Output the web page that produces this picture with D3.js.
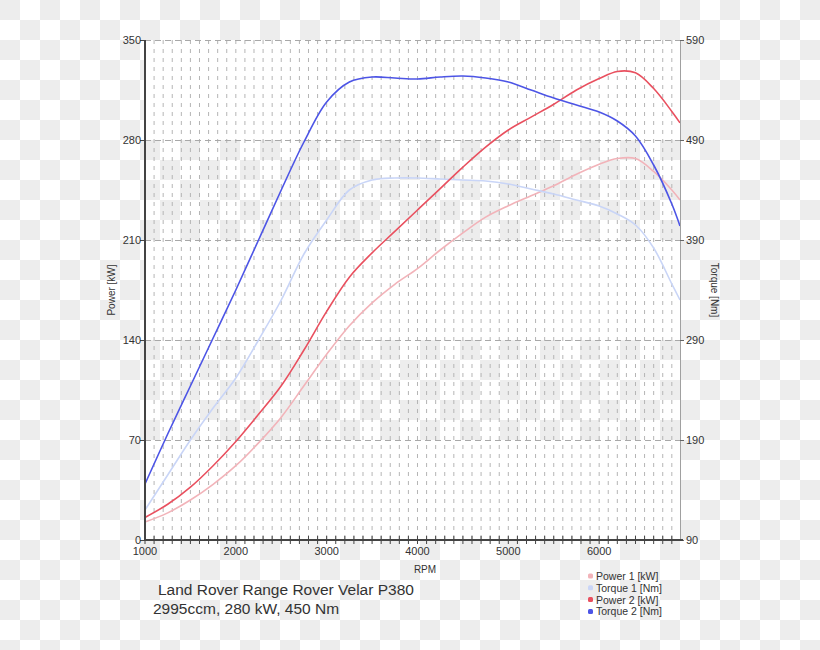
<!DOCTYPE html>
<html><head><meta charset="utf-8">
<script src="https://cdn.jsdelivr.net/npm/d3@7"></script>
<style>body{margin:0;background:#fff}svg{display:block}text{font-family:"Liberation Sans",Arial,sans-serif;fill:#333}</style>
</head><body><svg id="c" width="820" height="650"></svg>
<script>
const rpm =     [1000,1250,1500,1750,2000,2250,2500,2750,3000,3250,3500,3750,4000,4250,4500,4750,5000,5250,5500,5750,6000,6200,6400,6600,6800,6890];
const power1 =  [12.6,19,28,39,52,68,86,108,130,150,166,179,190,203,215,226,234,241,248,256,263,267,267,258,245,238];
const torque1 = [120,155,190,222,252,290,330,376,410,440,450,452,452,451,450,449,446,441,436,430,424,416,405,382,346,330];
const power2 =  [15.8,25,37,52,69,88,108,133,160,184,201,216,231,246,261,275,287,296,305,315,323,328,327,316,300,292];
const torque2 = [146,196,244,292,340,390,440,488,528,548,553,552,551,553,554,552,548,540,532,525,518,509,494,465,426,404];
const leftTicks = [0,70,140,210,280,350];
const rightTicks = [90,190,290,390,490,590];
const xTicks = [1000,2000,3000,4000,5000,6000];
const seriesNames = ["Power 1 [kW]","Torque 1 [Nm]","Power 2 [kW]","Torque 2 [Nm]"];
const seriesColors = ["#f2b3b9","#c9d5f7","#e9505f","#4d55e6"];
const titleLines = ["Land Rover Range Rover Velar P380","2995ccm, 280 kW, 450 Nm"];

const svg = d3.select("#c");
const L=145, T=40, R=680, B=540;
const x = d3.scaleLinear().domain([1000,6890]).range([L,R]);
const yP = d3.scaleLinear().domain([0,350]).range([B,T]);
const yT = d3.scaleLinear().domain([90,590]).range([B,T]);

const defs = svg.append("defs");
const pat = defs.append("pattern").attr("id","chk").attr("width",40).attr("height",40).attr("patternUnits","userSpaceOnUse");
pat.append("rect").attr("width",40).attr("height",40).attr("fill","#fff");
pat.append("rect").attr("x",0).attr("y",0).attr("width",20).attr("height",20).attr("fill","#ededed");
pat.append("rect").attr("x",20).attr("y",20).attr("width",20).attr("height",20).attr("fill","#ededed");
svg.append("rect").attr("width",820).attr("height",650).attr("fill","url(#chk)");

// white bands
[[280,350],[140,210],[0,70]].forEach(([a,b])=>{
  svg.append("rect").attr("x",L).attr("y",yP(b)).attr("width",R-L).attr("height",yP(a)-yP(b)).attr("fill","#fff");
});

// vertical dashed grid
const minor = d3.range(1100,6890,100);
svg.append("g").selectAll("line").data(minor).join("line")
  .attr("x1",d=>x(d)).attr("x2",d=>x(d)).attr("y1",T).attr("y2",B)
  .attr("stroke","#b5b5b5").attr("stroke-width",1).attr("stroke-dasharray","4,5");
// horizontal dashed grid
svg.append("g").selectAll("line").data(leftTicks.slice(1)).join("line")
  .attr("x1",L).attr("x2",R).attr("y1",d=>yP(d)+0.5).attr("y2",d=>yP(d)+0.5)
  .attr("stroke","#a8a8a8").attr("stroke-width",1).attr("stroke-dasharray","6,4");

// curves
const data = [power1,torque1,power2,torque2];
const scales = [yP,yT,yP,yT];
const line = (ys,sc)=>d3.line().x((d,i)=>x(rpm[i])).y(d=>sc(d)).curve(d3.curveCatmullRom.alpha(0.5))(ys);
[0,1,2,3].forEach(k=>{
  svg.append("path").attr("d",line(data[k],scales[k])).attr("fill","none")
    .attr("stroke",seriesColors[k]).attr("stroke-width",1.6);
});

// right axis
svg.append("line").attr("x1",R+0.5).attr("x2",R+0.5).attr("y1",T).attr("y2",B).attr("stroke","#a0a0a0");
svg.append("g").selectAll("line").data(rightTicks).join("line")
  .attr("x1",R).attr("x2",R+4).attr("y1",d=>yT(d)+0.5).attr("y2",d=>yT(d)+0.5).attr("stroke","#666");
svg.append("g").selectAll("text").data(rightTicks).join("text")
  .attr("x",R+6).attr("y",d=>yT(d)+4).attr("font-size",11).text(d=>d);

// left axis
svg.append("line").attr("x1",L).attr("x2",L).attr("y1",T).attr("y2",B+1).attr("stroke","#444").attr("stroke-width",2);
svg.append("g").selectAll("line").data(leftTicks).join("line")
  .attr("x1",L-5).attr("x2",L).attr("y1",d=>yP(d)+0.5).attr("y2",d=>yP(d)+0.5).attr("stroke","#444");
svg.append("g").selectAll("text").data(leftTicks).join("text")
  .attr("x",L-4).attr("y",d=>yP(d)+4).attr("font-size",11).attr("text-anchor","end").text(d=>d);

// bottom axis
svg.append("line").attr("x1",L).attr("x2",R+3).attr("y1",B).attr("y2",B).attr("stroke","#444").attr("stroke-width",2);
svg.append("g").selectAll("line").data(d3.range(1000,6890,100)).join("line")
  .attr("x1",d=>x(d)).attr("x2",d=>x(d)).attr("y1",B-4).attr("y2",B+4).attr("stroke","#444");
svg.append("g").selectAll("text").data(xTicks).join("text")
  .attr("x",d=>x(d)).attr("y",B+15).attr("font-size",11).attr("text-anchor","middle").text(d=>d);

// axis titles
svg.append("text").attr("transform",`translate(115,${(T+B)/2}) rotate(-90)`).attr("font-size",10).attr("text-anchor","middle").text("Power [kW]");
svg.append("text").attr("transform",`translate(711,${(T+B)/2}) rotate(90)`).attr("font-size",10).attr("text-anchor","middle").text("Torque [Nm]");
svg.append("text").attr("x",425).attr("y",573).attr("font-size",10).attr("text-anchor","middle").text("RPM");

// title
svg.append("text").attr("x",158).attr("y",595).attr("font-size",15.5).text(titleLines[0]);
svg.append("text").attr("x",153).attr("y",614).attr("font-size",15.5).text(titleLines[1]);

// legend
const lg = svg.append("g").selectAll("g").data(seriesNames).join("g")
  .attr("transform",(d,i)=>`translate(588,${576+i*11.8})`);
lg.append("rect").attr("x",0).attr("y",-2.5).attr("width",5).attr("height",5).attr("rx",1.5).attr("fill",(d,i)=>seriesColors[i]);
lg.append("text").attr("x",8).attr("y",4).attr("font-size",10.5).text(d=>d);
</script></body></html>
